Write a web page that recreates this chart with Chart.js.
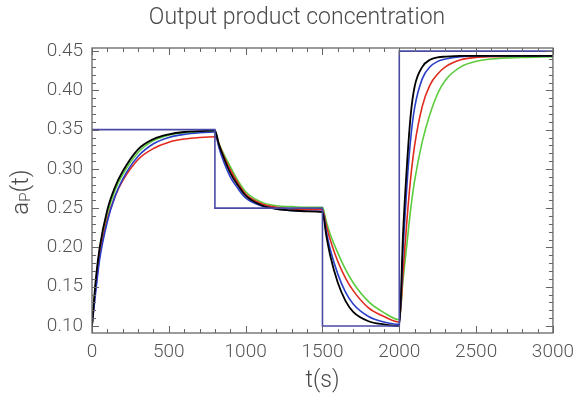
<!DOCTYPE html>
<html><head><meta charset="utf-8">
<script src="https://cdn.jsdelivr.net/npm/chart.js@4.4.1/dist/chart.umd.min.js"></script>
<style>html,body{margin:0;padding:0;background:#fff}#c{display:block}</style>
</head><body>
<canvas id="c" width="582" height="397"></canvas>
<script>
const times = [0,25,50,100,150,200,300,400,500,600,700,800,
  825,850,900,950,1000,1100,1200,1300,1400,1500,
  1525,1550,1600,1650,1700,1800,1900,2000,
  2025,2050,2075,2100,2150,2200,2250,2300,2400,2500,2600,2800,3000];
const blackVals = [0.100,0.160,0.200,0.248,0.277,0.297,0.325,0.338,0.344,0.347,0.348,0.349,
  0.332,0.318,0.295,0.279,0.266,0.254,0.249,0.247,0.246,0.245,
  0.215,0.190,0.155,0.132,0.118,0.106,0.102,0.100,
  0.220,0.305,0.370,0.405,0.430,0.439,0.442,0.443,0.444,0.444,0.444,0.444,0.444];
const blueVals = [0.100,0.145,0.185,0.233,0.265,0.287,0.316,0.332,0.340,0.344,0.346,0.347,
  0.328,0.313,0.290,0.275,0.263,0.253,0.249,0.247,0.246,0.246,
  0.220,0.198,0.166,0.143,0.128,0.112,0.105,0.102,
  0.200,0.280,0.340,0.378,0.415,0.430,0.437,0.440,0.443,0.444,0.444,0.444,0.444];
const redVals = [0.100,0.150,0.190,0.236,0.265,0.285,0.312,0.326,0.334,0.338,0.340,0.341,
  0.332,0.320,0.299,0.282,0.268,0.256,0.251,0.249,0.248,0.248,
  0.228,0.210,0.182,0.161,0.145,0.123,0.112,0.105,
  0.170,0.235,0.290,0.330,0.380,0.407,0.421,0.430,0.439,0.442,0.443,0.444,0.444];
const greenVals = [0.100,0.155,0.195,0.243,0.273,0.293,0.321,0.336,0.343,0.346,0.347,0.348,
  0.333,0.322,0.303,0.285,0.271,0.258,0.253,0.252,0.251,0.251,
  0.233,0.217,0.193,0.172,0.155,0.131,0.117,0.108,
  0.160,0.205,0.250,0.285,0.335,0.370,0.396,0.413,0.430,0.437,0.440,0.442,0.443];
const setpointTimes = [0,800,800,1500,1500,2000,2000,3000];
const setpointVals = [0.35,0.35,0.25,0.25,0.10,0.10,0.45,0.45];
const xTicks = [0,500,1000,1500,2000,2500,3000];
const yTicks = [0.10,0.15,0.20,0.25,0.30,0.35,0.40,0.45];

const FONT = "Roboto, 'Open Sans', sans-serif";
const pts = (xs, ys) => xs.map((x,i)=>({x:x,y:ys[i]}));

const framePlugin = {
  id:'frame',
  afterDatasetsDraw(chart){
    const {ctx, chartArea:a, scales:{x,y}} = chart;
    ctx.save();
    ctx.strokeStyle = '#666';
    ctx.lineWidth = 1.3;
    ctx.strokeRect(a.left, a.top, a.right-a.left, a.bottom-a.top);
    ctx.lineWidth = 1;
    ctx.beginPath();
    for(let t=0;t<=3000;t+=100){
      const px = Math.round(x.getPixelForValue(t))+0.5;
      const L = (t%500===0)?7:4;
      ctx.moveTo(px,a.bottom); ctx.lineTo(px,a.bottom-L);
      ctx.moveTo(px,a.top); ctx.lineTo(px,a.top+L);
    }
    for(let k=10;k<=45;k++){
      const v=k/100;
      const py = Math.round(y.getPixelForValue(v))+0.5;
      const L = (k%5===0)?7:4;
      ctx.moveTo(a.left,py); ctx.lineTo(a.left+L,py);
      ctx.moveTo(a.right,py); ctx.lineTo(a.right-L,py);
    }
    ctx.stroke();
    ctx.fillStyle = '#4a4a4a';
    ctx.textAlign='center'; ctx.textBaseline='middle';
    ctx.font = "300 23px " + FONT;
    ctx.fillText('Output product concentration', 297, 18);
    ctx.fillText('t(s)', (a.left+a.right)/2, 381);
    ctx.translate(22, 192);
    ctx.rotate(-Math.PI/2);
    ctx.textAlign='left';
    ctx.font = "300 24px " + FONT;
    const w1 = ctx.measureText('a').width;
    ctx.font = "300 15px " + FONT;
    const w2 = ctx.measureText('P').width;
    ctx.font = "300 24px " + FONT;
    const w3 = ctx.measureText('(t)').width;
    let sx = -(w1+w2+w3)/2;
    ctx.fillText('a', sx, 0); sx+=w1;
    ctx.font = "300 15px " + FONT;
    ctx.fillText('P', sx, 4); sx+=w2;
    ctx.font = "300 24px " + FONT;
    ctx.fillText('(t)', sx, 0);
    ctx.restore();
  }
};

const lineDs = (label, data, color, order, width) => ({
  label, data, borderColor: color, backgroundColor: color, borderWidth: width,
  pointRadius: 0, fill:false, order, cubicInterpolationMode:'monotone', tension:0.4
});

new Chart(document.getElementById('c'), {
  type:'line',
  data:{ datasets:[
    {label:'setpoint', data: pts(setpointTimes, setpointVals), borderColor:'#4a4aa6', borderWidth:1.6, pointRadius:0, tension:0, order:0},
    lineDs('black', pts(times, blackVals), '#000000', 1, 1.8),
    lineDs('blue', pts(times, blueVals), '#2a3fc8', 2, 1.6),
    lineDs('red', pts(times, redVals), '#e02a1e', 3, 1.6),
    lineDs('green', pts(times, greenVals), '#5acc3e', 4, 1.6)
  ]},
  options:{
    responsive:false, animation:false,
    layout:{padding:{top:48,right:26,left:0,bottom:0}},
    plugins:{legend:{display:false}, tooltip:{enabled:false}, title:{display:false}},
    scales:{
      x:{type:'linear', min:0, max:3000,
        afterBuildTicks: s => { s.ticks = xTicks.map(v=>({value:v})); },
        afterFit: s => { s.height = 64; },
        grid:{display:false, drawTicks:false}, border:{display:false},
        ticks:{padding:8, color:'#555', font:{family:FONT, size:19, weight:'300'}, maxRotation:0, callback:v=>String(v)}},
      y:{type:'linear', min:0.091, max:0.454,
        afterBuildTicks: s => { s.ticks = yTicks.map(v=>({value:v})); },
        afterFit: s => { s.width = 92; },
        grid:{display:false, drawTicks:false}, border:{display:false},
        ticks:{padding:9, color:'#555', font:{family:FONT, size:19, weight:'300'}, callback:v=>v.toFixed(2)}}
    }
  },
  plugins:[framePlugin]
});
</script>
</body></html>
